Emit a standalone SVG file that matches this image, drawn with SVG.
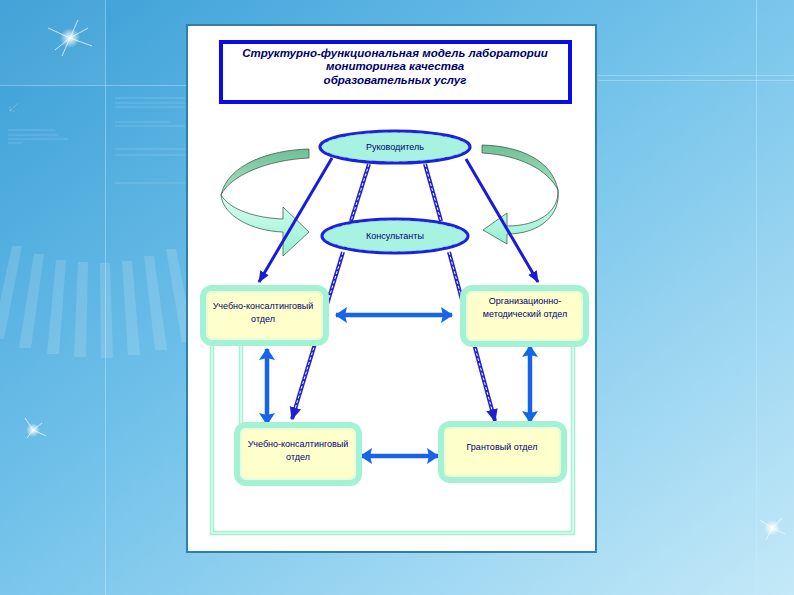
<svg xmlns="http://www.w3.org/2000/svg" width="794" height="595" viewBox="0 0 794 595">
<defs>
<linearGradient id="bg" x1="0" y1="0" x2="1" y2="1">
<stop offset="0" stop-color="#3a9ed6"/>
<stop offset="0.45" stop-color="#72c2ea"/>
<stop offset="1" stop-color="#c4e9f8"/>
</linearGradient>
<radialGradient id="star">
<stop offset="0" stop-color="#ffffff" stop-opacity="1"/>
<stop offset="0.4" stop-color="#ffffff" stop-opacity="0.6"/>
<stop offset="1" stop-color="#ffffff" stop-opacity="0"/>
</radialGradient>
<linearGradient id="ribDark" x1="0" y1="0" x2="0" y2="1">
<stop offset="0" stop-color="#6fbf95"/>
<stop offset="1" stop-color="#a8e6c8"/>
</linearGradient>
<linearGradient id="ribLight" x1="0" y1="0" x2="0" y2="1">
<stop offset="0" stop-color="#d8fff2"/>
<stop offset="1" stop-color="#96f0d2"/>
</linearGradient>
<marker id="ahSolid" viewBox="0 0 10 10" refX="9" refY="5" markerWidth="12" markerHeight="12" markerUnits="userSpaceOnUse" orient="auto">
<path d="M0,1 L10,5 L0,9 Z" fill="#1a1ad8"/>
</marker>
<marker id="ahDbl" viewBox="0 0 10 10" refX="9" refY="5" markerWidth="13" markerHeight="13" markerUnits="userSpaceOnUse" orient="auto">
<path d="M0,0.5 L10,5 L0,9.5 Z" fill="#2020d0"/>
</marker>
<marker id="ahBlue" viewBox="0 0 12 16" refX="11" refY="8" markerWidth="13" markerHeight="16" markerUnits="userSpaceOnUse" orient="auto-start-reverse">
<path d="M0,0 L12,8 L0,16 L2,8 Z" fill="#1664ea"/>
</marker>
</defs>
<style>
.txt{font-family:"Liberation Sans","DejaVu Sans",sans-serif;fill:#000070;text-anchor:middle}
.title{font-size:11.5px;font-weight:bold;font-style:italic}
.lbl{font-size:9px}
.boxo{fill:#ffffcc;stroke:#a4f2d4;stroke-width:6}
.boxi{fill:none;stroke:#d4fcea;stroke-width:1}
.ell{fill:#a8f2e2;stroke:#1c22d8;stroke-width:3.2}
.elld{fill:none;stroke:#9fd8ff;stroke-width:0.8;stroke-dasharray:6 3}
.solid{stroke:#1a1ad8;stroke-width:3;fill:none;marker-end:url(#ahSolid)}
.dbl{stroke:#2222cc;stroke-width:4;fill:none}
.dblw{stroke:#ffffff;stroke-width:1;fill:none;stroke-dasharray:3 2}
.barrow{stroke:#1664ea;stroke-width:4.5;fill:none;marker-start:url(#ahBlue);marker-end:url(#ahBlue)}
.frame{stroke:#a4f2d4;stroke-width:4.5;fill:none}
.framew{stroke:#f4fffa;stroke-width:1.2;fill:none}
.rib{stroke:#2f4a3c;stroke-width:0.7}
</style>

<!-- background -->
<rect x="0" y="0" width="794" height="595" fill="url(#bg)"/>
<rect x="0" y="0" width="105" height="85" fill="#ffffff" opacity="0.05"/>
<g stroke="#cfeefc" stroke-opacity="0.5" stroke-width="0.8">
<line x1="105.5" y1="0" x2="105.5" y2="595"/>
<line x1="0" y1="85.5" x2="186" y2="85.5"/>
<line x1="598" y1="75.5" x2="794" y2="75.5"/>
<line x1="598" y1="80.5" x2="794" y2="80.5"/>
<line x1="756.5" y1="0" x2="756.5" y2="595"/>
</g>
<g stroke="#ffffff" stroke-opacity="0.18" stroke-width="1">
<line x1="115" y1="98" x2="185" y2="98"/>
<line x1="115" y1="103" x2="185" y2="103"/>
<line x1="115" y1="107" x2="185" y2="107"/>
<line x1="115" y1="122" x2="170" y2="122"/>
<line x1="115" y1="126" x2="185" y2="126"/>
<line x1="115" y1="149" x2="185" y2="149"/>
<line x1="115" y1="155" x2="185" y2="155"/>
<line x1="115" y1="183" x2="185" y2="183"/>
<line x1="8" y1="130" x2="55" y2="130"/>
<line x1="8" y1="135" x2="58" y2="135"/>
<line x1="8" y1="139" x2="68" y2="139"/>
<line x1="8" y1="143" x2="22" y2="143"/>
<path d="M18,103 L10,111 M10,106 V111 H15" fill="none"/>
</g>
<!-- sunburst rays -->
<g id="rays" fill="#ffffff" fill-opacity="0.14">
<path d="M-10,235 L0,235 L-23,327 L-35,327 Z"/>
<path d="M12,246 L22,246 L4,339 L-8,339 Z"/>
<path d="M34,254 L44,254 L31,348 L19,348 Z"/>
<path d="M56,260 L66,260 L59,354 L47,354 Z"/>
<path d="M78,262 L88,262 L86,357 L74,357 Z"/>
<path d="M100,263 L110,263 L113,358 L101,358 Z"/>
<path d="M122,261 L132,261 L140,355 L128,355 Z"/>
<path d="M144,256 L154,256 L167,350 L155,350 Z"/>
<path d="M166,249 L176,249 L194,342 L182,342 Z"/>
</g>
<!-- stars -->
<g>
<circle cx="70" cy="38" r="10" fill="url(#star)"/>
<path d="M70,38 L48,28 M70,38 L92,46 M70,38 L62,56 M70,38 L78,20 M70,38 L88,28 M70,38 L55,50" stroke="#ffffff" stroke-opacity="0.7" stroke-width="1"/>
<circle cx="33" cy="430" r="7" fill="url(#star)"/>
<path d="M33,430 L25,418 M33,430 L46,436 M33,430 L27,438 M33,430 L42,423" stroke="#ffffff" stroke-opacity="0.7" stroke-width="1"/>
<circle cx="772" cy="528" r="8" fill="url(#star)"/>
<path d="M772,528 L760,520 M772,528 L785,534 M772,528 L766,540 M772,528 L782,518" stroke="#ffffff" stroke-opacity="0.7" stroke-width="1"/>
</g>

<!-- page -->
<rect x="187" y="25" width="409" height="527" fill="#ffffff" stroke="#2f7fa6" stroke-width="2"/>

<!-- title -->
<g id="title">
<rect x="221" y="42" width="349" height="60" fill="#ffffff" stroke="#0a0ae6" stroke-width="4"/>
<text class="txt title" x="395" y="57">Структурно-функциональная  модель лаборатории</text>
<text class="txt title" x="395" y="70">мониторинга качества</text>
<text class="txt title" x="395" y="84">образовательных услуг</text>
</g>

<!-- connectors -->
<g id="connectors">
<!-- curved ribbon arrows -->
<path class="rib" fill="url(#ribDark)" d="M309,149 C270,150 228,164 221,195 C230,176 266,160 309,158 Z"/>
<path class="rib" fill="url(#ribLight)" d="M221,195 C223,216 252,231 283,232 L283,256 L309,232 L283,207 L283,219 C256,218 230,210 221,195 Z"/>
<path class="rib" fill="url(#ribDark)" d="M482,145 C520,146 552,160 558,190 C548,170 520,155 482,153 Z"/>
<path class="rib" fill="url(#ribLight)" d="M558,190 C559,212 538,226 507,226 L507,213 L483,230 L507,244 L507,234 C541,234 561,214 558,190 Z"/>

<!-- solid arrows from Руководитель -->
<line class="solid" x1="332" y1="158" x2="259" y2="282"/>
<line class="solid" x1="466" y1="159" x2="538" y2="282"/>

<!-- double lines Руководитель - Консультанты -->
<line class="dbl" x1="369" y1="164" x2="351" y2="221"/>
<line class="dblw" x1="369" y1="164" x2="351" y2="221"/>
<line class="dbl" x1="425" y1="164" x2="441" y2="221"/>
<line class="dblw" x1="425" y1="164" x2="441" y2="221"/>

<!-- double lines Консультанты -> bottom boxes -->
<line class="dbl" x1="343" y1="252" x2="292" y2="419" marker-end="url(#ahDbl)"/>
<line class="dblw" x1="343" y1="252" x2="295" y2="409"/>
<line class="dbl" x1="449" y1="252" x2="495" y2="421" marker-end="url(#ahDbl)"/>
<line class="dblw" x1="449" y1="252" x2="492" y2="410"/>

<!-- green frame lines -->
<path class="frame" d="M212,343 V533 H573 V344"/>
<path class="framew" d="M212,343 V533 H573 V344"/>
<path class="frame" d="M241,343 V426"/>
<path class="framew" d="M241,343 V426"/>

<!-- blue double-headed arrows -->
<line class="barrow" x1="336" y1="315" x2="452" y2="315"/>
<line class="barrow" x1="267" y1="349" x2="267" y2="424"/>
<line class="barrow" x1="530" y1="346" x2="530" y2="422"/>
<line class="barrow" x1="361" y1="456" x2="438" y2="456"/>
</g>

<!-- nodes -->
<g id="node-head">
<ellipse class="ell" cx="395" cy="147" rx="75" ry="16"/>
<ellipse class="elld" cx="395" cy="147" rx="73" ry="14"/>
<text class="txt lbl" x="395" y="150">Руководитель</text>
</g>
<g id="node-consult">
<ellipse class="ell" cx="395" cy="236" rx="73" ry="17"/>
<ellipse class="elld" cx="395" cy="236" rx="71" ry="15"/>
<text class="txt lbl" x="395" y="239">Консультанты</text>
</g>
<g id="node-ucheb1">
<rect class="boxo" x="203" y="288" width="123" height="55" rx="9"/>
<rect class="boxi" x="207" y="292" width="115" height="47" rx="6"/>
<text class="txt lbl" x="263" y="309">Учебно-консалтинговый</text>
<text class="txt lbl" x="263" y="322">отдел</text>
</g>
<g id="node-org">
<rect class="boxo" x="463" y="288" width="123" height="56" rx="9"/>
<rect class="boxi" x="467" y="292" width="115" height="48" rx="6"/>
<text class="txt lbl" x="525" y="304">Организационно-</text>
<text class="txt lbl" x="525" y="317">методический отдел</text>
</g>
<g id="node-ucheb2">
<rect class="boxo" x="237" y="425" width="122" height="58" rx="9"/>
<rect class="boxi" x="241" y="429" width="114" height="50" rx="6"/>
<text class="txt lbl" x="298" y="447">Учебно-консалтинговый</text>
<text class="txt lbl" x="298" y="460">отдел</text>
</g>
<g id="node-grant">
<rect class="boxo" x="441" y="424" width="123" height="56" rx="9"/>
<rect class="boxi" x="445" y="428" width="115" height="48" rx="6"/>
<text class="txt lbl" x="502" y="450">Грантовый  отдел</text>
</g>
</svg>
